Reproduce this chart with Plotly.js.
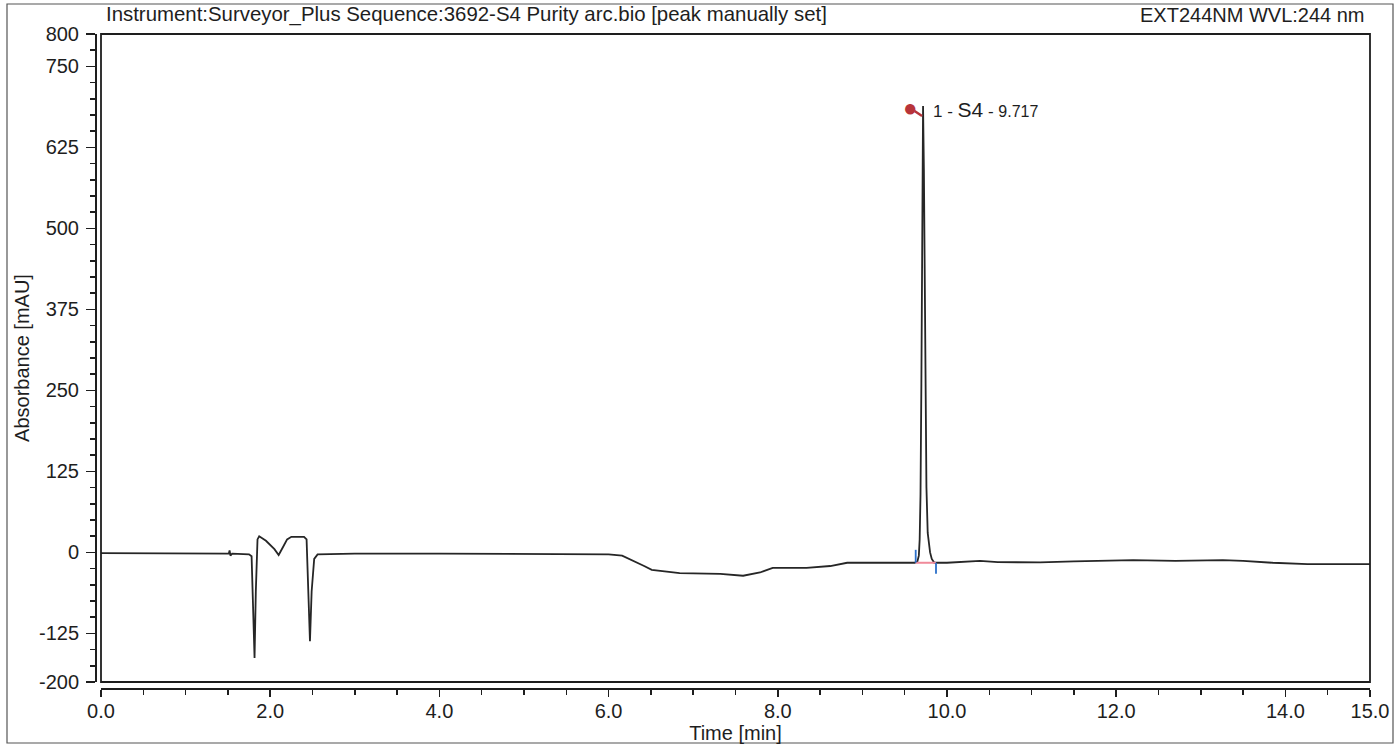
<!DOCTYPE html>
<html>
<head>
<meta charset="utf-8">
<script src="https://cdn.plot.ly/plotly-3.0.1.min.js"></script>
<style>
  html, body { margin: 0; padding: 0; background: #ffffff; }
  #chart { width: 1397px; height: 745px; }
</style>
</head>
<body>
<div id="chart"></div>
<script>
// ---- Data ----
const timeMin = [
  0.00, 0.50, 1.00, 1.45, 1.51, 1.52, 1.53, 1.55, 1.75, 1.78, 1.80, 1.815, 1.83, 1.85, 1.87,
  1.95, 2.05, 2.10, 2.15, 2.20, 2.25, 2.40, 2.43, 2.45, 2.47, 2.49, 2.52, 2.56, 3.00, 4.00,
  5.00, 6.00, 6.16, 6.30, 6.42, 6.51, 6.84, 7.32, 7.59, 7.79, 7.94, 8.34, 8.62, 8.82, 9.00, 9.41,
  9.62, 9.65, 9.667, 9.677, 9.687, 9.697, 9.707, 9.717, 9.727, 9.737, 9.747, 9.757, 9.772,
  9.80, 9.82, 9.85, 10.00, 10.39, 10.60, 11.10, 11.50, 12.20, 12.70, 13.26, 13.50, 13.85,
  14.26, 15.00
];
const absorbance = [
  -1, -1.5, -1.5, -2, -2, 3, -5, -2, -3, -6, -100, -163, -60, 20, 25,
  18, 5, -4, 8, 20, 24, 24, 20, -60, -137, -60, -10, -3, -2, -2,
  -2.5, -3, -5, -13, -21, -27, -32, -33, -36, -31, -24, -24, -21, -16, -16, -17,
  -16, -14, -5, 20, 90, 260, 520, 689, 590, 400, 220, 100, 30,
  0, -10, -16, -16, -13, -15, -15.5, -14, -12, -13, -12, -13, -16,
  -18, -18
];

// Peak annotation data
const peakTime = 9.717;
const peakHeight = 689;
const peakName = "S4";
const peakNumber = 1;
const peakBoundsTime = [9.63, 9.87];
const peakBaseline = [-16, -16];
const peakStartMark = [-16, 4];
const peakEndMark = [-16, -33];

// Axis ticks
const yTickVals = [-200, -125, 0, 125, 250, 375, 500, 625, 750, 800];
const yTickText = ["-200", "-125", "0", "125", "250", "375", "500", "625", "750", "800"];
const xTickVals = [0, 2, 4, 6, 8, 10, 12, 14, 15];
const xTickText = ["0.0", "2.0", "4.0", "6.0", "8.0", "10.0", "12.0", "14.0", "15.0"];

const headerLeft = "Instrument:Surveyor_Plus Sequence:3692-S4 Purity arc.bio [peak manually set]";
const headerRight = "EXT244NM WVL:244 nm";

// ---- Layout geometry (pixels) ----
const W = 1397, H = 745;
const axL = 95, axR = 1370, axT = 34, axB = 688;   // axis lines
const frameL = 101, frameB = 682;                   // plot frame
const pw = axR - axL, ph = axB - axT;
const px = v => (v - axL) / pw;
const py = v => (axB - v) / ph;

const FONT = "Liberation Sans, Arial, sans-serif";
const INK = "#1e1e1e";
const FS = 20;

const traces = [
  {
    x: timeMin, y: absorbance, type: "scatter", mode: "lines",
    line: { color: "#262626", width: 1.8 }, hoverinfo: "x+y", showlegend: false
  },
  {
    x: peakBoundsTime, y: peakBaseline, type: "scatter", mode: "lines",
    line: { color: "#f08a9a", width: 2 }, showlegend: false, hoverinfo: "skip"
  },
  {
    x: [peakBoundsTime[0], peakBoundsTime[0]], y: peakStartMark, type: "scatter", mode: "lines",
    line: { color: "#2a6fc9", width: 1.8 }, showlegend: false, hoverinfo: "skip"
  },
  {
    x: [peakBoundsTime[1], peakBoundsTime[1]], y: peakEndMark, type: "scatter", mode: "lines",
    line: { color: "#2a6fc9", width: 1.8 }, showlegend: false, hoverinfo: "skip"
  }
];

const layout = {
  width: W, height: H,
  paper_bgcolor: "#ffffff", plot_bgcolor: "#ffffff",
  margin: { l: axL, r: W - axR, t: axT, b: H - axB, pad: 0 },
  font: { family: FONT, size: FS, color: INK },
  showlegend: false,
  xaxis: {
    range: [0, 15], domain: [px(frameL), 1],
    anchor: "free", position: 0,
    tickmode: "array", tickvals: xTickVals, ticktext: xTickText,
    ticks: "outside", ticklen: 7, tickwidth: 1.5, tickcolor: INK,
    ticklabelstandoff: -3,
    minor: { dtick: 0.5, tick0: 0, ticks: "outside", ticklen: 5, tickwidth: 1.5, tickcolor: INK, showgrid: false },
    showline: true, linecolor: INK, linewidth: 1.8,
    showgrid: false, zeroline: false,
    tickfont: { family: FONT, size: FS, color: INK },
    title: { text: "Time [min]", font: { family: FONT, size: FS, color: INK }, standoff: 2 }
  },
  yaxis: {
    range: [-200, 800], domain: [py(frameB), 1],
    anchor: "free", position: 0,
    tickmode: "array", tickvals: yTickVals, ticktext: yTickText,
    ticks: "outside", ticklen: 9, tickwidth: 1.5, tickcolor: INK,
    ticklabelstandoff: 3,
    minor: { dtick: 25, tick0: 0, ticks: "outside", ticklen: 5, tickwidth: 1.5, tickcolor: INK, showgrid: false },
    showline: true, linecolor: INK, linewidth: 1.8,
    showgrid: false, zeroline: false,
    tickfont: { family: FONT, size: FS, color: INK },
    title: { text: "Absorbance [mAU]", font: { family: FONT, size: FS, color: INK }, standoff: 2 }
  },
  shapes: [
    { type: "rect", xref: "paper", yref: "paper",
      x0: px(frameL), x1: 1, y0: py(frameB), y1: 1,
      line: { color: INK, width: 1.8 }, fillcolor: "rgba(0,0,0,0)" },
    { type: "rect", xref: "paper", yref: "paper",
      x0: px(7), x1: px(1393), y0: py(743), y1: py(4),
      line: { color: "#555555", width: 1.2 }, fillcolor: "rgba(0,0,0,0)" }
  ],
  annotations: [
    { xref: "paper", yref: "paper", x: px(104), y: py(15), xanchor: "left", yanchor: "middle",
      text: headerLeft, showarrow: false, font: { family: FONT, size: 20.4, color: INK } },
    { xref: "paper", yref: "paper", x: px(1367), y: py(15), xanchor: "right", yanchor: "middle",
      text: headerRight, showarrow: false, font: { family: FONT, size: FS, color: INK } },
    { xref: "x", yref: "y", x: peakTime, y: peakHeight, xanchor: "left", yanchor: "middle",
      xshift: 8, yshift: -4,
      text: peakNumber + " - <span style='font-size:21px'>" + peakName + "</span> - <span style='font-size:16px'>" + peakTime.toFixed(3) + "</span>",
      showarrow: false, font: { family: FONT, size: 17, color: INK } },
    { xref: "x", yref: "y", x: peakTime, y: peakHeight, xanchor: "center", yanchor: "middle",
      xshift: -13, yshift: -2, text: "●", showarrow: false,
      font: { family: FONT, size: 24, color: "#b8343a" } },
    { xref: "x", yref: "y", x: peakTime, y: peakHeight, ax: -9, ay: -6, axref: "pixel", ayref: "pixel",
      xshift: -1, yshift: -10,
      text: "", showarrow: true, arrowhead: 0, arrowwidth: 2.5, arrowcolor: "#b8343a" }
  ]
};

Plotly.newPlot("chart", traces, layout, { displayModeBar: false, staticPlot: true });
</script>
</body>
</html>
